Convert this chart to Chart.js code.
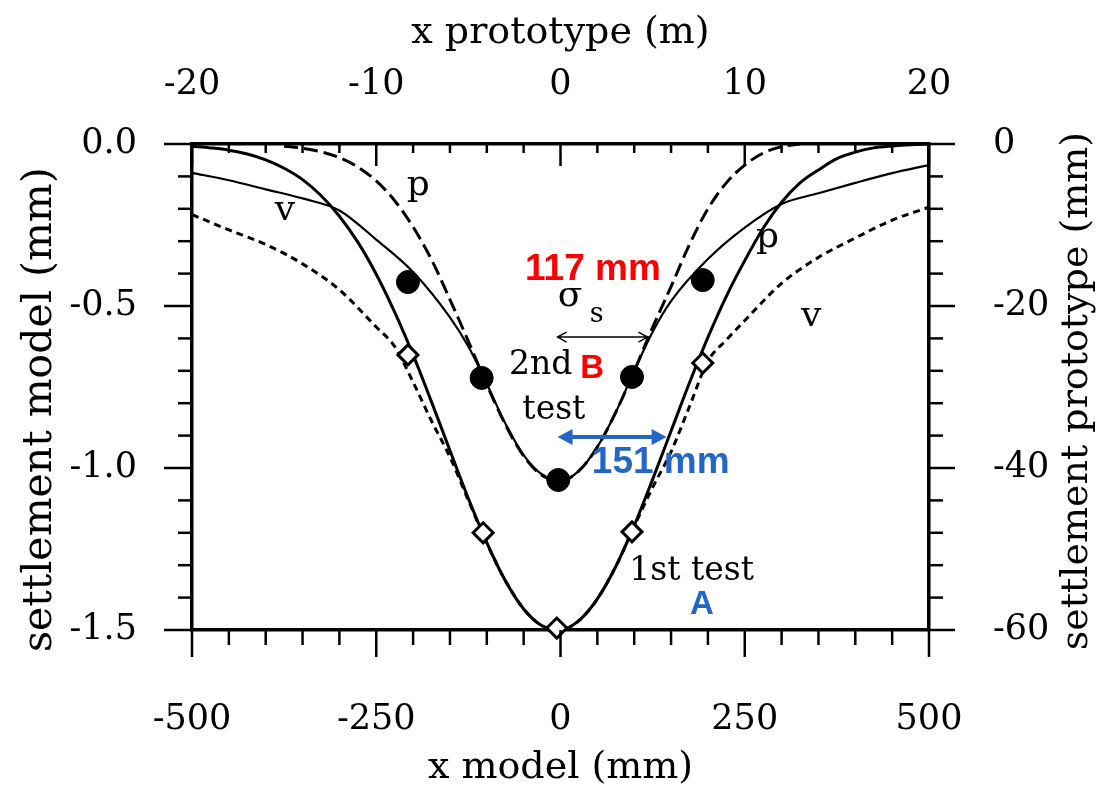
<!DOCTYPE html>
<html>
<head>
<meta charset="utf-8">
<script src="https://cdn.jsdelivr.net/npm/chart.js@4.4.1/dist/chart.umd.min.js"></script>
<style>
	html, body { margin: 0; padding: 0; background: #fff; }
</style>
</head>
<body>
<canvas id="myChart" width="1099" height="793"></canvas>
<script>
// tick labels of the four axes
const xModelTicks = [-500, -250, 0, 250, 500];      // x model (mm)
const xProtoTicks = [-20, -10, 0, 10, 20];          // x prototype (m)
const yModelTicks = [0, -0.5, -1.0, -1.5];          // settlement model (mm)
const yProtoTicks = [0, -20, -40, -60];             // settlement prototype (mm)

// 1st test, solid curve
const firstSolidX = [-500, -475, -450, -425, -400, -375, -350, -325, -300, -275, -250, -225, -200, -175, -150, -125, -100, -75, -50, -25, 0,
	25, 50, 75, 100, 125, 150, 175, 200, 225, 250, 275, 300, 325, 350, 375, 400, 425, 450, 475, 500];
const firstSolidY = [-0.007, -0.012, -0.019, -0.031, -0.049, -0.075, -0.110, -0.159, -0.223, -0.303, -0.402, -0.519, -0.651, -0.796, -0.946, -1.094, -1.230, -1.347, -1.435, -1.487, -1.499,
	-1.471, -1.404, -1.304, -1.178, -1.035, -0.886, -0.737, -0.597, -0.470, -0.360, -0.260, -0.180, -0.120, -0.080, -0.045, -0.025, -0.012, -0.006, -0.002, 0];

// 1st test, short dashed curve (v)
const firstDashX = [-500, -450, -400, -350, -300, -250, -225, -200, -175, -150, -125, -100, -75, -50, -25, 0,
	25, 50, 75, 100, 125, 150, 175, 200, 225, 250, 300, 350, 400, 450, 500];
const firstDashY = [-0.218, -0.265, -0.310, -0.370, -0.450, -0.565, -0.625, -0.735, -0.855, -0.966, -1.100, -1.232, -1.347, -1.435, -1.487, -1.499,
	-1.471, -1.404, -1.304, -1.180, -1.060, -0.950, -0.810, -0.670, -0.605, -0.545, -0.430, -0.350, -0.290, -0.235, -0.195];

// 2nd test, long dashed curve (p)
const secondDashX = [-375, -350, -325, -300, -275, -250, -225, -200, -175, -150, -125, -100, -75, -50, -25, 0,
	25, 50, 75, 100, 125, 150, 175, 200, 225, 250, 275, 300, 325];
const secondDashY = [-0.007, -0.013, -0.024, -0.042, -0.071, -0.114, -0.175, -0.256, -0.357, -0.480, -0.609, -0.743, -0.865, -0.963, -1.023, -1.039,
	-1.009, -0.935, -0.828, -0.701, -0.566, -0.440, -0.310, -0.200, -0.120, -0.065, -0.028, -0.008, 0];

// 2nd test, thin solid curve (v)
const secondThinX = [-500, -450, -400, -350, -300, -250, -200, -150, -125, -100, -75, -50, -25, 0,
	25, 50, 75, 100, 125, 150, 200, 250, 300, 350, 400, 450, 500];
const secondThinY = [-0.089, -0.112, -0.140, -0.168, -0.205, -0.295, -0.395, -0.535, -0.625, -0.740, -0.862, -0.960, -1.020, -1.039,
	-1.009, -0.935, -0.828, -0.700, -0.580, -0.485, -0.355, -0.258, -0.185, -0.152, -0.120, -0.090, -0.065];

// measured points
const firstTestX = [-207, -105, -5, 97, 193];
const firstTestY = [-0.651, -1.200, -1.494, -1.197, -0.676];
const secondTestX = [-207, -107, -3, 97, 193];
const secondTestY = [-0.426, -0.722, -1.037, -0.719, -0.420];

function pts(xs, ys) {
	return xs.map((v, i) => ({ x: v, y: ys[i] }));
}

const SERIF = '"DejaVu Serif", "Liberation Serif", serif';
const SANS = '"Liberation Sans", Arial, sans-serif';

// 축 눈금 (작은 눈금 포함) 직접 그리기
const axisTicks = {
	id: 'axisTicks',
	afterDraw(chart) {
		const { ctx, chartArea: a, scales } = chart;
		ctx.save();
		ctx.strokeStyle = '#000';
		ctx.lineWidth = 2.5;
		const line = (x1, y1, x2, y2) => {
			ctx.beginPath(); ctx.moveTo(x1, y1); ctx.lineTo(x2, y2); ctx.stroke();
		};
		// bottom, every 50 mm, outward
		for (let v = -500; v <= 500; v += 50) {
			const px = scales.x.getPixelForValue(v);
			line(px, a.bottom, px, a.bottom + (v % 250 === 0 ? 27 : 15));
		}
		// top, every 2 m, inward
		for (let v = -20; v <= 20; v += 2) {
			const px = scales.x2.getPixelForValue(v);
			line(px, a.top, px, a.top + (v % 10 === 0 ? 22 : 9));
		}
		// left, every 0.1 mm, outward
		for (let i = 0; i <= 15; i++) {
			const py = scales.y.getPixelForValue(-i / 10);
			line(a.left - (i % 5 === 0 ? 28 : 14), py, a.left, py);
		}
		// right, every 4 mm, outward
		for (let v = 0; v >= -60; v -= 4) {
			const py = scales.y2.getPixelForValue(v);
			line(a.right, py, a.right + (v % 20 === 0 ? 26 : 14), py);
		}
		ctx.restore();
	}
};

// 글자, 화살표
const annotations = {
	id: 'annotations',
	afterDatasetsDraw(chart) {
		const { ctx, chartArea: a, scales } = chart;
		const X = v => scales.x.getPixelForValue(v);
		const Y = v => scales.y.getPixelForValue(v);
		ctx.save();
		ctx.textAlign = 'center';
		ctx.textBaseline = 'middle';
		ctx.fillStyle = '#000';

		ctx.font = '36px ' + SERIF;
		ctx.fillText('p', X(-193), Y(-0.128));
		ctx.fillText('p', X(281), Y(-0.288));
		ctx.fillText('v', X(-374), Y(-0.205));
		ctx.fillText('v', X(340), Y(-0.532));
		ctx.font = '33px ' + SERIF;
		ctx.fillText('2nd', X(-27), Y(-0.682));
		ctx.fillText('test', X(-9), Y(-0.821));
		ctx.fillText('1st test', X(178), Y(-1.318));
		ctx.font = '36px ' + SERIF;
		ctx.fillText('σ', X(13), Y(-0.472));
		ctx.font = '27px ' + SERIF;
		ctx.fillText('s', X(49), Y(-0.527));

		// sigma arrow (black)
		ctx.strokeStyle = '#000';
		ctx.lineWidth = 1.5;
		const ay = Y(-0.596), ax1 = X(-4), ax2 = X(118);
		ctx.beginPath();
		ctx.moveTo(ax1, ay); ctx.lineTo(ax2, ay);
		ctx.moveTo(ax1 + 9, ay - 5); ctx.lineTo(ax1, ay); ctx.lineTo(ax1 + 9, ay + 5);
		ctx.moveTo(ax2 - 9, ay - 5); ctx.lineTo(ax2, ay); ctx.lineTo(ax2 - 9, ay + 5);
		ctx.stroke();

		// 151 mm arrow (blue)
		const blue = '#2266c8';
		const by = Y(-0.904), bx1 = X(-4), bx2 = X(144);
		ctx.strokeStyle = blue;
		ctx.fillStyle = blue;
		ctx.lineWidth = 4;
		ctx.beginPath(); ctx.moveTo(bx1 + 10, by); ctx.lineTo(bx2 - 10, by); ctx.stroke();
		ctx.beginPath();
		ctx.moveTo(bx1, by); ctx.lineTo(bx1 + 15, by - 8); ctx.lineTo(bx1 + 15, by + 8); ctx.closePath();
		ctx.moveTo(bx2, by); ctx.lineTo(bx2 - 15, by - 8); ctx.lineTo(bx2 - 15, by + 8); ctx.closePath();
		ctx.fill();

		ctx.font = 'bold 37px ' + SANS;
		ctx.fillText('151 mm', X(136), Y(-0.984));
		ctx.font = 'bold 33px ' + SANS;
		ctx.fillText('A', X(192), Y(-1.423));

		ctx.fillStyle = '#ff0000';
		ctx.font = 'bold 37px ' + SANS;
		ctx.fillText('117 mm', X(44), Y(-0.389));
		ctx.font = 'bold 33px ' + SANS;
		ctx.fillText('B', X(43), Y(-0.694));

		// rotated axis titles, both reading upward
		ctx.fillStyle = '#000';
		ctx.save();
		ctx.font = '41px ' + SERIF;
		ctx.translate(scales.y.left + 40, Y(-0.82));
		ctx.rotate(-Math.PI / 2);
		ctx.fillText('settlement model (mm)', 0, 0);
		ctx.restore();

		ctx.font = '38px ' + SERIF;
		ctx.translate(scales.y2.right - 22, (a.top + a.bottom) / 2 + 4);
		ctx.rotate(-Math.PI / 2);
		ctx.fillText('settlement prototype (mm)', 0, 0);
		ctx.restore();
	}
};

const tickFont = { family: SERIF, size: 35 };
const titleFont = { family: SERIF, size: 38 };
const noGrid = { display: false };
const axisBorder = { display: true, width: 3.5, color: '#000' };

const ctx = document.getElementById('myChart').getContext('2d');
const myChart = new Chart(ctx, {
	type: 'line',
	data: {
		datasets: [
			{
				label: '1st test points',
				data: pts(firstTestX, firstTestY),
				showLine: false,
				pointStyle: 'rectRot',
				pointRadius: 10,
				pointBackgroundColor: '#fff',
				pointBorderColor: '#000',
				pointBorderWidth: 3,
				clip: false,
				order: 0
			},
			{
				label: '2nd test points',
				data: pts(secondTestX, secondTestY),
				showLine: false,
				pointStyle: 'circle',
				pointRadius: 11.5,
				pointBackgroundColor: '#000',
				pointBorderColor: '#000',
				pointBorderWidth: 1,
				clip: false,
				order: 0
			},
			{
				label: '1st test',
				data: pts(firstSolidX, firstSolidY),
				borderColor: '#000',
				borderWidth: 3,
				pointRadius: 0,
				cubicInterpolationMode: 'monotone',
				clip: false,
				order: 1
			},
			{
				label: '1st test v',
				data: pts(firstDashX, firstDashY),
				borderColor: '#000',
				borderWidth: 3,
				borderDash: [7, 5],
				pointRadius: 0,
				cubicInterpolationMode: 'monotone',
				order: 2
			},
			{
				label: '2nd test p',
				data: pts(secondDashX, secondDashY),
				borderColor: '#000',
				borderWidth: 3,
				borderDash: [14, 6],
				pointRadius: 0,
				cubicInterpolationMode: 'monotone',
				order: 3
			},
			{
				label: '2nd test v',
				data: pts(secondThinX, secondThinY),
				borderColor: '#000',
				borderWidth: 2.2,
				pointRadius: 0,
				cubicInterpolationMode: 'monotone',
				order: 4
			}
		]
	},
	options: {
		responsive: false,
		animation: false,
		layout: { padding: 0 },
		plugins: {
			legend: { display: false },
			tooltip: { enabled: false }
		},
		scales: {
			x: {
				type: 'linear',
				position: 'bottom',
				min: -500,
				max: 500,
				afterBuildTicks: s => { s.ticks = xModelTicks.map(v => ({ value: v })); },
				afterFit: s => { s.height = 163; },
				ticks: { font: tickFont, color: '#000', padding: 61, maxRotation: 0, callback: v => String(v) },
				grid: noGrid,
				border: axisBorder,
				title: { display: true, text: 'x model (mm)', font: titleFont, color: '#000', padding: { top: 0, bottom: 2 } }
			},
			x2: {
				type: 'linear',
				position: 'top',
				min: -20,
				max: 20,
				afterBuildTicks: s => { s.ticks = xProtoTicks.map(v => ({ value: v })); },
				afterFit: s => { s.height = 144; },
				ticks: { font: tickFont, color: '#000', padding: 30, maxRotation: 0, callback: v => String(v) },
				grid: noGrid,
				border: axisBorder,
				title: { display: true, text: 'x prototype (m)', font: titleFont, color: '#000', padding: { top: 10, bottom: 0 } }
			},
			y: {
				type: 'linear',
				position: 'left',
				min: -1.5,
				max: 0,
				afterBuildTicks: s => { s.ticks = yModelTicks.map(v => ({ value: v })); },
				afterFit: s => { s.width = 192; },
				ticks: { font: tickFont, color: '#000', padding: 47, callback: v => v.toFixed(1) },
				grid: noGrid,
				border: axisBorder
			},
			y2: {
				type: 'linear',
				position: 'right',
				min: -60,
				max: 0,
				afterBuildTicks: s => { s.ticks = yProtoTicks.map(v => ({ value: v })); },
				afterFit: s => { s.width = 170; },
				ticks: { font: tickFont, color: '#000', padding: 56, callback: v => String(v) },
				grid: noGrid,
				border: axisBorder
			}
		}
	},
	plugins: [axisTicks, annotations]
}); // new Chart
</script>
</body>
</html>
